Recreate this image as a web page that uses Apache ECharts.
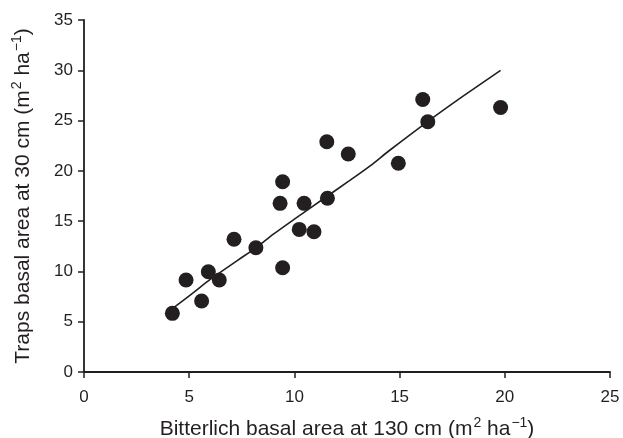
<!DOCTYPE html>
<html>
<head>
<meta charset="utf-8">
<script src="https://cdn.jsdelivr.net/npm/echarts@6/dist/echarts.min.js"></script>
<style>html,body{margin:0;padding:0;background:#fff}#c{width:623px;height:438px}</style>
</head>
<body>
<div id="c"></div>
<script>
var bitterlich = [4.2, 4.85, 5.59, 5.91, 6.43, 7.13, 8.17, 9.32, 9.44, 9.44, 10.46, 10.23, 10.93, 11.54, 11.57, 12.56, 14.94, 16.1, 16.34, 19.8];
var traps      = [5.83, 9.15, 7.06, 9.97, 9.15, 13.2, 12.36, 16.77, 10.37, 18.92, 16.77, 14.18, 13.95, 22.9, 17.27, 21.67, 20.75, 27.1, 24.88, 26.3];
var fitX = [4.2, 5.2, 6.0, 7.3, 8.2, 9.0, 10.0, 11.5, 12.6, 13.6, 14.5, 16.4, 18.0, 19.8];
var fitY = [6.3, 7.9, 9.2, 11.1, 12.4, 13.7, 15.2, 17.4, 19.0, 20.5, 22.0, 25.0, 27.4, 30.0];
var xTicks = [0, 5, 10, 15, 20, 25];
var yTicks = [0, 5, 10, 15, 20, 25, 30, 35];

var ink = '#231f20';
var font = 'Liberation Sans, Arial, sans-serif';
var pts = bitterlich.map(function (v, i) { return [v, traps[i]]; });
var fit = fitX.map(function (v, i) { return [v, fitY[i]]; });

var rich = {
  n: { fontSize: 21, color: ink, fontFamily: font, lineHeight: 24, verticalAlign: 'bottom' },
  s: { fontSize: 14, color: ink, fontFamily: font, lineHeight: 24, verticalAlign: 'top', padding: [0, 0, 0, 1] }
};

var chart = echarts.init(document.getElementById('c'), null, { renderer: 'canvas' });
chart.setOption({
  animation: false,
  backgroundColor: '#fff',
  grid: { left: 84, right: 13, top: 20, bottom: 66, containLabel: false, outerBoundsMode: 'none' },
  xAxis: {
    type: 'value', min: 0, max: 25, interval: 5,
    axisLine: { lineStyle: { color: ink, width: 1.8 } },
    axisTick: { inside: false, length: 6, lineStyle: { color: ink, width: 1.5 } },
    axisLabel: { color: ink, fontSize: 17, fontFamily: font, margin: 17,
      formatter: function (v) { return xTicks.indexOf(v) >= 0 ? String(v) : ''; } },
    splitLine: { show: false },
    name: '{n|Bitterlich basal area at 130 cm (m}{s|2}{n| ha}{s|\u22121}{n|)}',
    nameLocation: 'middle', nameGap: 44, nameMoveOverlap: false,
    nameTextStyle: { rich: rich }
  },
  yAxis: {
    type: 'value', min: 0, max: 35, interval: 5,
    axisLine: { lineStyle: { color: ink, width: 1.8 } },
    axisTick: { inside: false, length: 6, lineStyle: { color: ink, width: 1.5 } },
    axisLabel: { color: ink, fontSize: 17, fontFamily: font, margin: 11,
      formatter: function (v) { return yTicks.indexOf(v) >= 0 ? String(v) : ''; } },
    splitLine: { show: false },
    name: '{n|Traps basal area at 30 cm (m}{s|2}{n| ha}{s|\u22121}{n|)}',
    nameLocation: 'middle', nameGap: 50, nameRotate: 90, nameMoveOverlap: false,
    nameTextStyle: { rich: rich }
  },
  series: [
    { type: 'line', data: fit, showSymbol: false, smooth: 0.3,
      lineStyle: { color: ink, width: 1.6 }, z: 2 },
    { type: 'scatter', data: pts, symbol: 'circle', symbolSize: 15,
      itemStyle: { color: ink, opacity: 1 }, z: 3 }
  ]
});
</script>
</body>
</html>
